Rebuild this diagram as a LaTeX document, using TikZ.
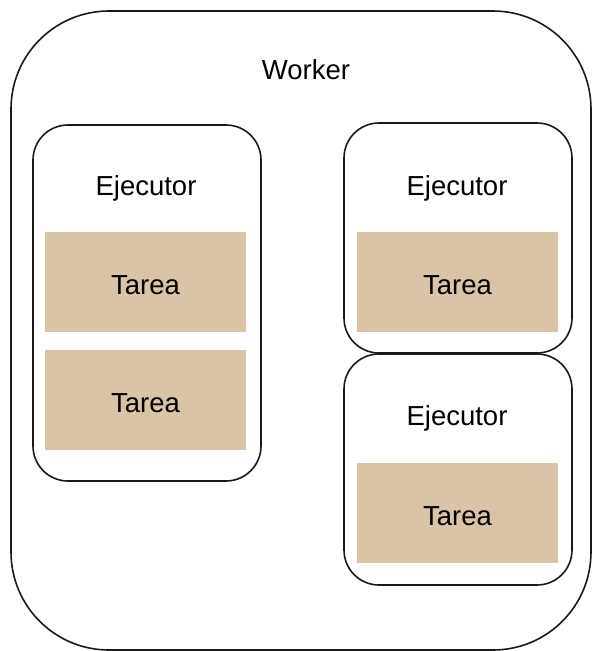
\documentclass[tikz,border=0pt]{standalone}
\usepackage{fontspec}
\setmainfont{Liberation Sans}
\definecolor{tarea}{HTML}{D9C4A5}
\begin{document}
\begin{tikzpicture}[x=1pt,y=-1pt,
  box/.style={draw=black!90,line width=1.6pt},
  tareabox/.style={fill=tarea,draw=none,minimum width=201pt,minimum height=100pt,inner sep=0pt,
    text height=24.5pt,text depth=0pt,font=\fontsize{27.5}{32}\selectfont},
  lbl/.style={font=\fontsize{27.5}{32}\selectfont,inner sep=0pt}]
  \useasboundingbox (0,0) rectangle (592,651);
  % worker frame
  \draw[box,rounded corners=98pt] (11,11) rectangle (591,650);
  \node[lbl] (worker) at (306,70) {Worker};
  % left executor with two tasks
  \draw[box,rounded corners=35pt] (33,125) rectangle (261,481);
  \node[lbl] (e1) at (146,188) {Ejecutor};
  \node[tareabox] (t1) at (145.5,282) {Tarea};
  \node[tareabox] (t2) at (145.5,400) {Tarea};
  % right upper executor
  \draw[box,rounded corners=35pt] (344,123) rectangle (572,353);
  \node[lbl] (e2) at (457,188) {Ejecutor};
  \node[tareabox] (t3) at (457.5,282) {Tarea};
  % right lower executor
  \draw[box,rounded corners=35pt] (344,354) rectangle (572,585);
  \node[lbl] (e3) at (457,418) {Ejecutor};
  \node[tareabox] (t4) at (457.5,513) {Tarea};
\end{tikzpicture}
\end{document}
